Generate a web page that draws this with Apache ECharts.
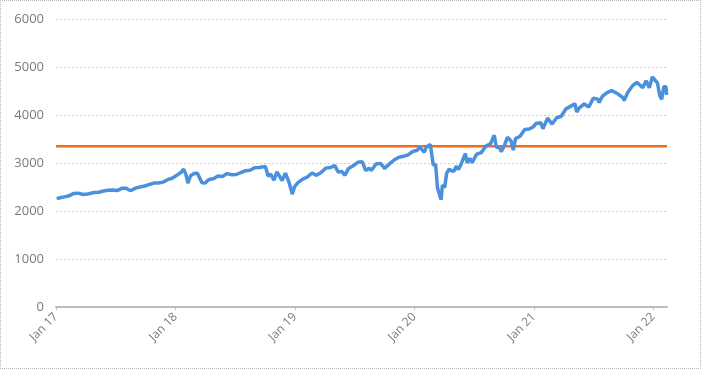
<!DOCTYPE html>
<html>
<head>
<meta charset="utf-8">
<script src="https://cdn.jsdelivr.net/npm/echarts@6/dist/echarts.min.js"></script>
<style>
html,body{margin:0;padding:0;background:#fff;}
#chart{width:701px;height:369px;box-sizing:border-box;border:1px dotted #b8b8b8;}
</style>
</head>
<body>
<div id="chart"></div>
<script>
// S&P 500 style index, approximate closes
const dates = [
"2017-01-03","2017-01-13","2017-01-27","2017-02-10","2017-02-24","2017-03-01","2017-03-10","2017-03-24","2017-04-07","2017-04-13","2017-04-28","2017-05-12","2017-05-17","2017-05-26","2017-06-09","2017-06-23","2017-07-07","2017-07-21","2017-08-04","2017-08-11","2017-08-18","2017-09-01","2017-09-15","2017-09-29","2017-10-13","2017-10-27","2017-11-10","2017-11-24","2017-12-08","2017-12-22",
"2018-01-05","2018-01-19","2018-01-26","2018-02-02","2018-02-08","2018-02-16","2018-02-26","2018-03-09","2018-03-23","2018-04-02","2018-04-13","2018-04-27","2018-05-11","2018-05-25","2018-06-08","2018-06-22","2018-07-06","2018-07-20","2018-08-03","2018-08-17","2018-08-31","2018-09-14","2018-09-20","2018-10-03","2018-10-11","2018-10-19","2018-10-29","2018-11-07","2018-11-23","2018-12-03","2018-12-14","2018-12-24","2018-12-31",
"2019-01-11","2019-01-25","2019-02-08","2019-02-22","2019-03-08","2019-03-22","2019-04-05","2019-04-19","2019-05-03","2019-05-13","2019-05-24","2019-06-03","2019-06-14","2019-06-28","2019-07-12","2019-07-26","2019-08-05","2019-08-16","2019-08-23","2019-09-06","2019-09-20","2019-10-02","2019-10-18","2019-11-01","2019-11-15","2019-11-29","2019-12-13","2019-12-27",
"2020-01-10","2020-01-17","2020-01-31","2020-02-07","2020-02-19","2020-02-28","2020-03-06","2020-03-12","2020-03-16","2020-03-23","2020-03-27","2020-04-03","2020-04-09","2020-04-17","2020-04-24","2020-05-01","2020-05-08","2020-05-15","2020-05-22","2020-06-05","2020-06-11","2020-06-19","2020-06-26","2020-07-10","2020-07-24","2020-08-07","2020-08-21","2020-09-02","2020-09-08","2020-09-18","2020-09-23","2020-10-02","2020-10-12","2020-10-23","2020-10-30","2020-11-06","2020-11-20","2020-12-04","2020-12-18","2020-12-31",
"2021-01-08","2021-01-22","2021-01-29","2021-02-12","2021-02-26","2021-03-12","2021-03-26","2021-04-09","2021-04-23","2021-05-07","2021-05-12","2021-05-21","2021-06-04","2021-06-18","2021-07-02","2021-07-16","2021-07-19","2021-07-30","2021-08-13","2021-08-27","2021-09-02","2021-09-17","2021-10-01","2021-10-04","2021-10-15","2021-10-29","2021-11-12","2021-11-18","2021-11-30","2021-12-10","2021-12-20","2021-12-29",
"2022-01-03","2022-01-14","2022-01-21","2022-01-27","2022-02-02","2022-02-09","2022-02-11"
];
const values = [
2258,2275,2295,2316,2367,2396,2372,2344,2355,2329,2384,2390,2357,2416,2432,2438,2425,2472,2476,2441,2426,2476,2500,2519,2553,2581,2582,2602,2652,2683,
2743,2810,2873,2762,2581,2732,2780,2786,2588,2582,2656,2670,2728,2721,2779,2755,2760,2802,2840,2850,2901,2905,2930,2925,2728,2768,2641,2814,2633,2790,2600,2351,2507,
2596,2665,2708,2793,2743,2801,2893,2905,2946,2812,2826,2744,2887,2942,3014,3026,2845,2889,2847,2979,2992,2888,2986,3067,3120,3141,3169,3240,
3265,3330,3226,3328,3386,2954,2972,2481,2386,2237,2541,2489,2790,2875,2837,2830,2930,2864,2955,3194,3002,3098,3009,3185,3216,3351,3397,3580,3332,3319,3237,3348,3534,3465,3270,3509,3557,3699,3709,3756,
3824,3841,3714,3934,3811,3943,3974,4128,4180,4232,4063,4155,4229,4166,4352,4327,4258,4395,4468,4509,4537,4432,4357,4300,4471,4605,4682,4704,4567,4712,4568,4793,
4796,4662,4398,4326,4589,4587,4419
];
const threshold = 3350;
const yTicks = [0,1000,2000,3000,4000,5000,6000];
const xStart = "2017-01-01";
const xEnd = "2022-02-12";

// convert a date string to a fractional year so that each January sits on an integer tick
function yearFrac(s){
  const d = new Date(s + "T00:00:00Z");
  const y = d.getUTCFullYear();
  const a = Date.UTC(y,0,1), b = Date.UTC(y+1,0,1);
  return y + (d.getTime() - a) / (b - a);
}
const lineData = dates.map((d,i)=>[yearFrac(d), values[i]]);
const x0 = yearFrac(xStart), x1 = yearFrac(xEnd);

const chart = echarts.init(document.getElementById('chart'), null, {renderer:'canvas'});
chart.setOption({
  animation:false,
  backgroundColor:'#ffffff',
  grid:{left:55, right:33, top:18, bottom:61, containLabel:false},
  xAxis:{
    type:'value', min:x0, max:x1, interval:1,
    axisLine:{show:true, onZero:false, lineStyle:{color:'#bdbdbd', width:2}},
    axisTick:{show:true, length:3, lineStyle:{color:'#bdbdbd', width:1}},
    splitLine:{show:false},
    axisLabel:{
      rotate:45, color:'#7a7a7a', fontSize:12, fontFamily:'Open Sans', margin:8,
      showMaxLabel:false,
      formatter:function(v){ return 'Jan ' + String(Math.round(v)).slice(2); }
    }
  },
  yAxis:{
    type:'value', min:yTicks[0], max:yTicks[yTicks.length-1], interval:1000,
    axisLine:{show:false}, axisTick:{show:false},
    splitLine:{show:true, lineStyle:{color:'#cfcfcf', type:[2,2], width:1}},
    axisLabel:{color:'#7a7a7a', fontSize:13, fontFamily:'Open Sans', margin:12,
      formatter:function(v){ return yTicks.indexOf(v) >= 0 ? String(v) : ''; }}
  },
  series:[
    {
      type:'line', name:'Threshold', symbol:'none', silent:true,
      data:[[x0, threshold],[x1, threshold]],
      lineStyle:{color:'#ee6d1e', width:2.5}, z:2
    },
    {
      type:'line', name:'Index', symbol:'none', smooth:false,
      data:lineData,
      lineStyle:{color:'#4a90dc', width:3.5}, z:3
    }
  ]
});
</script>
</body>
</html>
